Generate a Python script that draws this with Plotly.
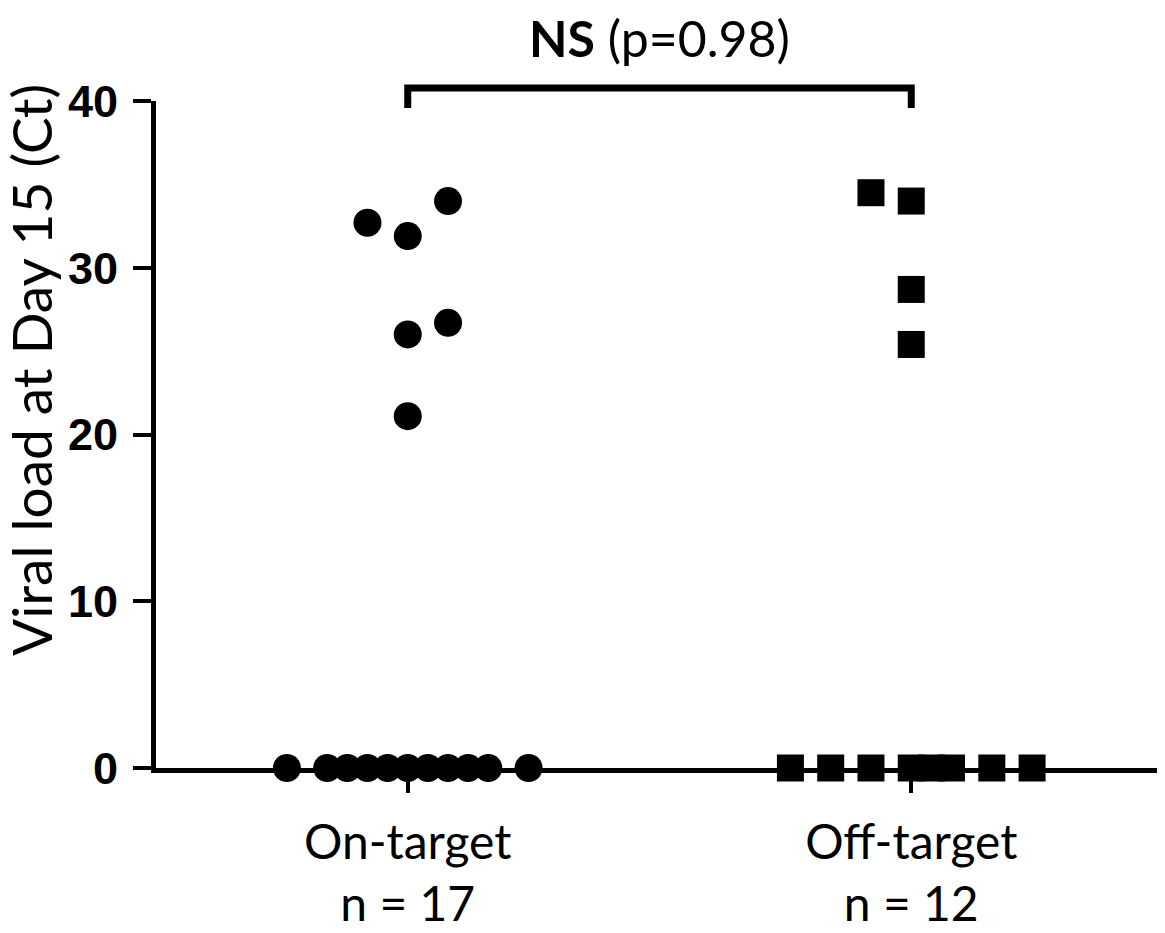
import plotly.graph_objects as go

# ---- data ----
categories = ["On-target", "Off-target"]
group_labels = ["On-target<br>n = 17", "Off-target<br>n = 12"]
tick_values_y = [0, 10, 20, 30, 40]

on_values = [32.7, 31.9, 34.0, 26.0, 26.7, 21.1,
             0, 0, 0, 0, 0, 0, 0, 0, 0, 0, 0]
on_offsets = [-0.08, 0.0, 0.08, 0.0, 0.08, 0.0,
              -0.24, -0.16, -0.12, -0.08, -0.04, 0.0, 0.04, 0.08, 0.12, 0.16, 0.24]

off_values = [34.5, 34.0, 28.7, 25.4,
              0, 0, 0, 0, 0, 0, 0, 0]
off_offsets = [-0.08, 0.0, 0.0, 0.0,
               -0.24, -0.16, -0.08, 0.0, 0.04, 0.08, 0.16, 0.24]

p_text = "<b>NS</b> (p=0.98)"
y_title = "Viral load at Day 15 (Ct)"

# ---- figure ----
fig = go.Figure()
fig.add_trace(go.Scatter(
    x=[1 + o for o in on_offsets], y=on_values, mode="markers",
    marker=dict(symbol="circle", size=28, color="black"),
    cliponaxis=False, showlegend=False, name=categories[0]))
fig.add_trace(go.Scatter(
    x=[2 + o for o in off_offsets], y=off_values, mode="markers",
    marker=dict(symbol="square", size=27, color="black"),
    cliponaxis=False, showlegend=False, name=categories[1]))

# significance bracket
fig.add_shape(type="path", xref="x", yref="paper",
              path="M 1,0.9895 L 1,1.0195 L 2,1.0195 L 2,0.9895",
              line=dict(color="black", width=7))
fig.add_annotation(x=1.5, xref="x", y=1.095, yref="paper", text=p_text,
                   showarrow=False, xanchor="center", yanchor="middle",
                   font=dict(family="Lato", size=50, color="black"))
fig.add_annotation(x=-0.124, xref="paper", y=0.597, yref="paper", text=y_title,
                   textangle=-90, showarrow=False, xanchor="center", yanchor="middle",
                   font=dict(family="Lato", size=55, color="black"))

fig.update_layout(
    width=1157, height=925,
    margin=dict(l=148, r=2, t=93, b=163),
    plot_bgcolor="white", paper_bgcolor="white",
    xaxis=dict(range=[0.5, 2.5], tickvals=[1, 2], ticktext=group_labels,
               showline=True, linewidth=5, linecolor="black",
               ticks="outside", ticklen=20, tickwidth=4, tickcolor="black",
               ticklabelstandoff=8,
               showgrid=False, zeroline=False,
               tickfont=dict(family="Lato", size=48, color="black")),
    yaxis=dict(range=[0, 40], tickvals=tick_values_y,
               showline=True, linewidth=5, linecolor="black",
               ticks="outside", ticklen=18, tickwidth=4, tickcolor="black",
               ticklabelstandoff=6,
               showgrid=False, zeroline=False,
               tickfont=dict(family="Liberation Sans", size=45, color="black",
                             weight="bold")),
)

fig.write_html("out.html")
